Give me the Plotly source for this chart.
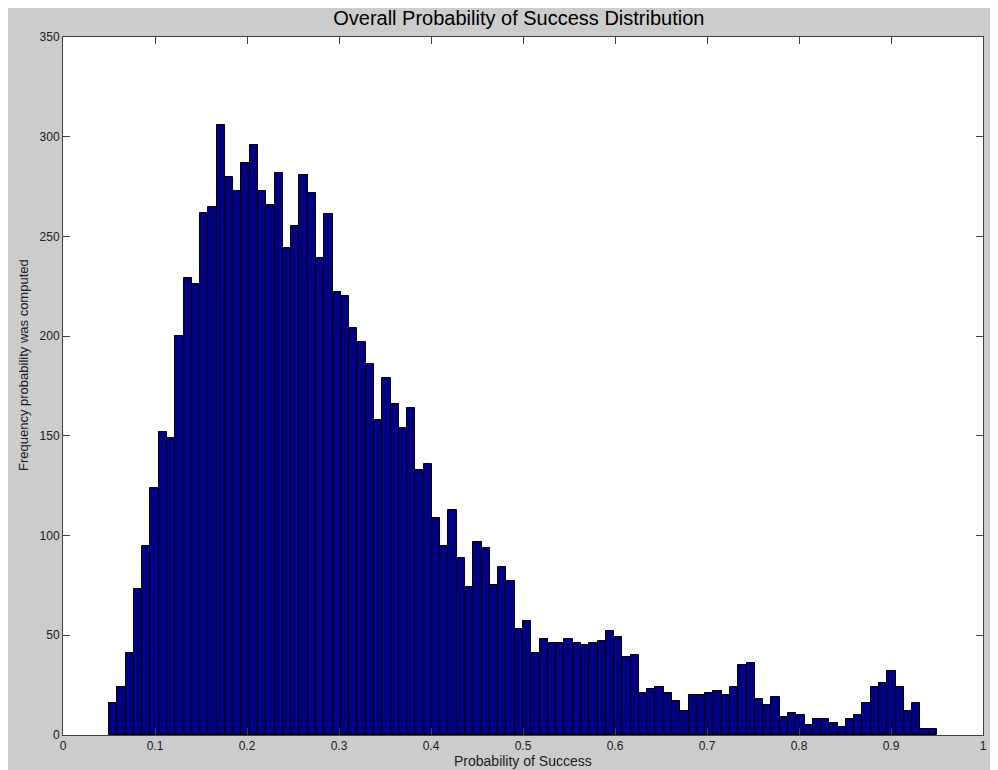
import plotly.graph_objects as go
import numpy as np

# histogram bins (100 bins from 0.05 to 0.95)
bin_start = 0.05
bin_end = 0.95
counts = [16, 24, 41, 73, 95, 124, 152, 149, 200, 229,
          226, 262, 265, 306, 280, 273, 287, 296, 273, 266,
          282, 244, 255, 281, 272, 239, 261, 222, 220, 204,
          197, 186, 158, 179, 166, 154, 164, 133, 136, 109,
          95, 113, 89, 74, 97, 94, 75, 84, 77, 53,
          57, 41, 48, 46, 46, 48, 46, 45, 46, 47,
          52, 49, 39, 40, 21, 23, 24, 21, 17, 12,
          20, 20, 21, 22, 20, 24, 35, 36, 18, 15,
          19, 9, 11, 10, 5, 8, 8, 6, 4, 8,
          10, 16, 24, 26, 32, 24, 12, 16, 3, 3]

x_ticks = [0, 0.1, 0.2, 0.3, 0.4, 0.5, 0.6, 0.7, 0.8, 0.9, 1]
x_labels = ['0', '0.1', '0.2', '0.3', '0.4', '0.5', '0.6', '0.7', '0.8', '0.9', '1']
y_ticks = [0, 50, 100, 150, 200, 250, 300, 350]

edges = np.linspace(bin_start, bin_end, len(counts) + 1)
centers = (edges[:-1] + edges[1:]) / 2
width = edges[1] - edges[0]

fig = go.Figure(go.Bar(
    x=centers,
    y=counts,
    width=width,
    marker=dict(color='#000080', line=dict(color='#000000', width=1)),
))

axis_common = dict(
    showline=True,
    linecolor='#404040',
    linewidth=1,
    mirror='allticks',
    ticks='inside',
    ticklen=7,
    tickcolor='#404040',
    showgrid=False,
    zeroline=False,
    tickfont=dict(family='Liberation Sans, Arial', size=12, color='#202020'),
)

fig.update_layout(
    width=990,
    height=762,
    margin=dict(l=55, r=15, t=29, b=35),
    paper_bgcolor='#cccccc',
    plot_bgcolor='#ffffff',
    showlegend=False,
    bargap=0,
    title=dict(
        text='Overall Probability of Success Distribution',
        font=dict(family='Liberation Sans, Arial', size=20, color='#000000'),
        x=0.516, xanchor='center',
        y=1 - 10 / 762, yanchor='middle',
        xref='container', yref='container',
    ),
    xaxis=dict(range=[0, 1], tickvals=x_ticks, ticktext=x_labels, **axis_common),
    yaxis=dict(range=[0, 350], tickvals=y_ticks, **axis_common),
    annotations=[
        dict(text='Probability of Success', xref='paper', yref='paper',
             x=0.5, y=-26 / 698, xanchor='center', yanchor='middle', showarrow=False,
             font=dict(family='Liberation Sans, Arial', size=14, color='#202020')),
        dict(text='Frequency probability was computed', xref='paper', yref='paper',
             x=-39 / 920, y=(735 - 365) / 698, xanchor='center', yanchor='middle',
             textangle=-90, showarrow=False,
             font=dict(family='Liberation Sans, Arial', size=13, color='#202020')),
    ],
)

fig.write_html('out.html')
